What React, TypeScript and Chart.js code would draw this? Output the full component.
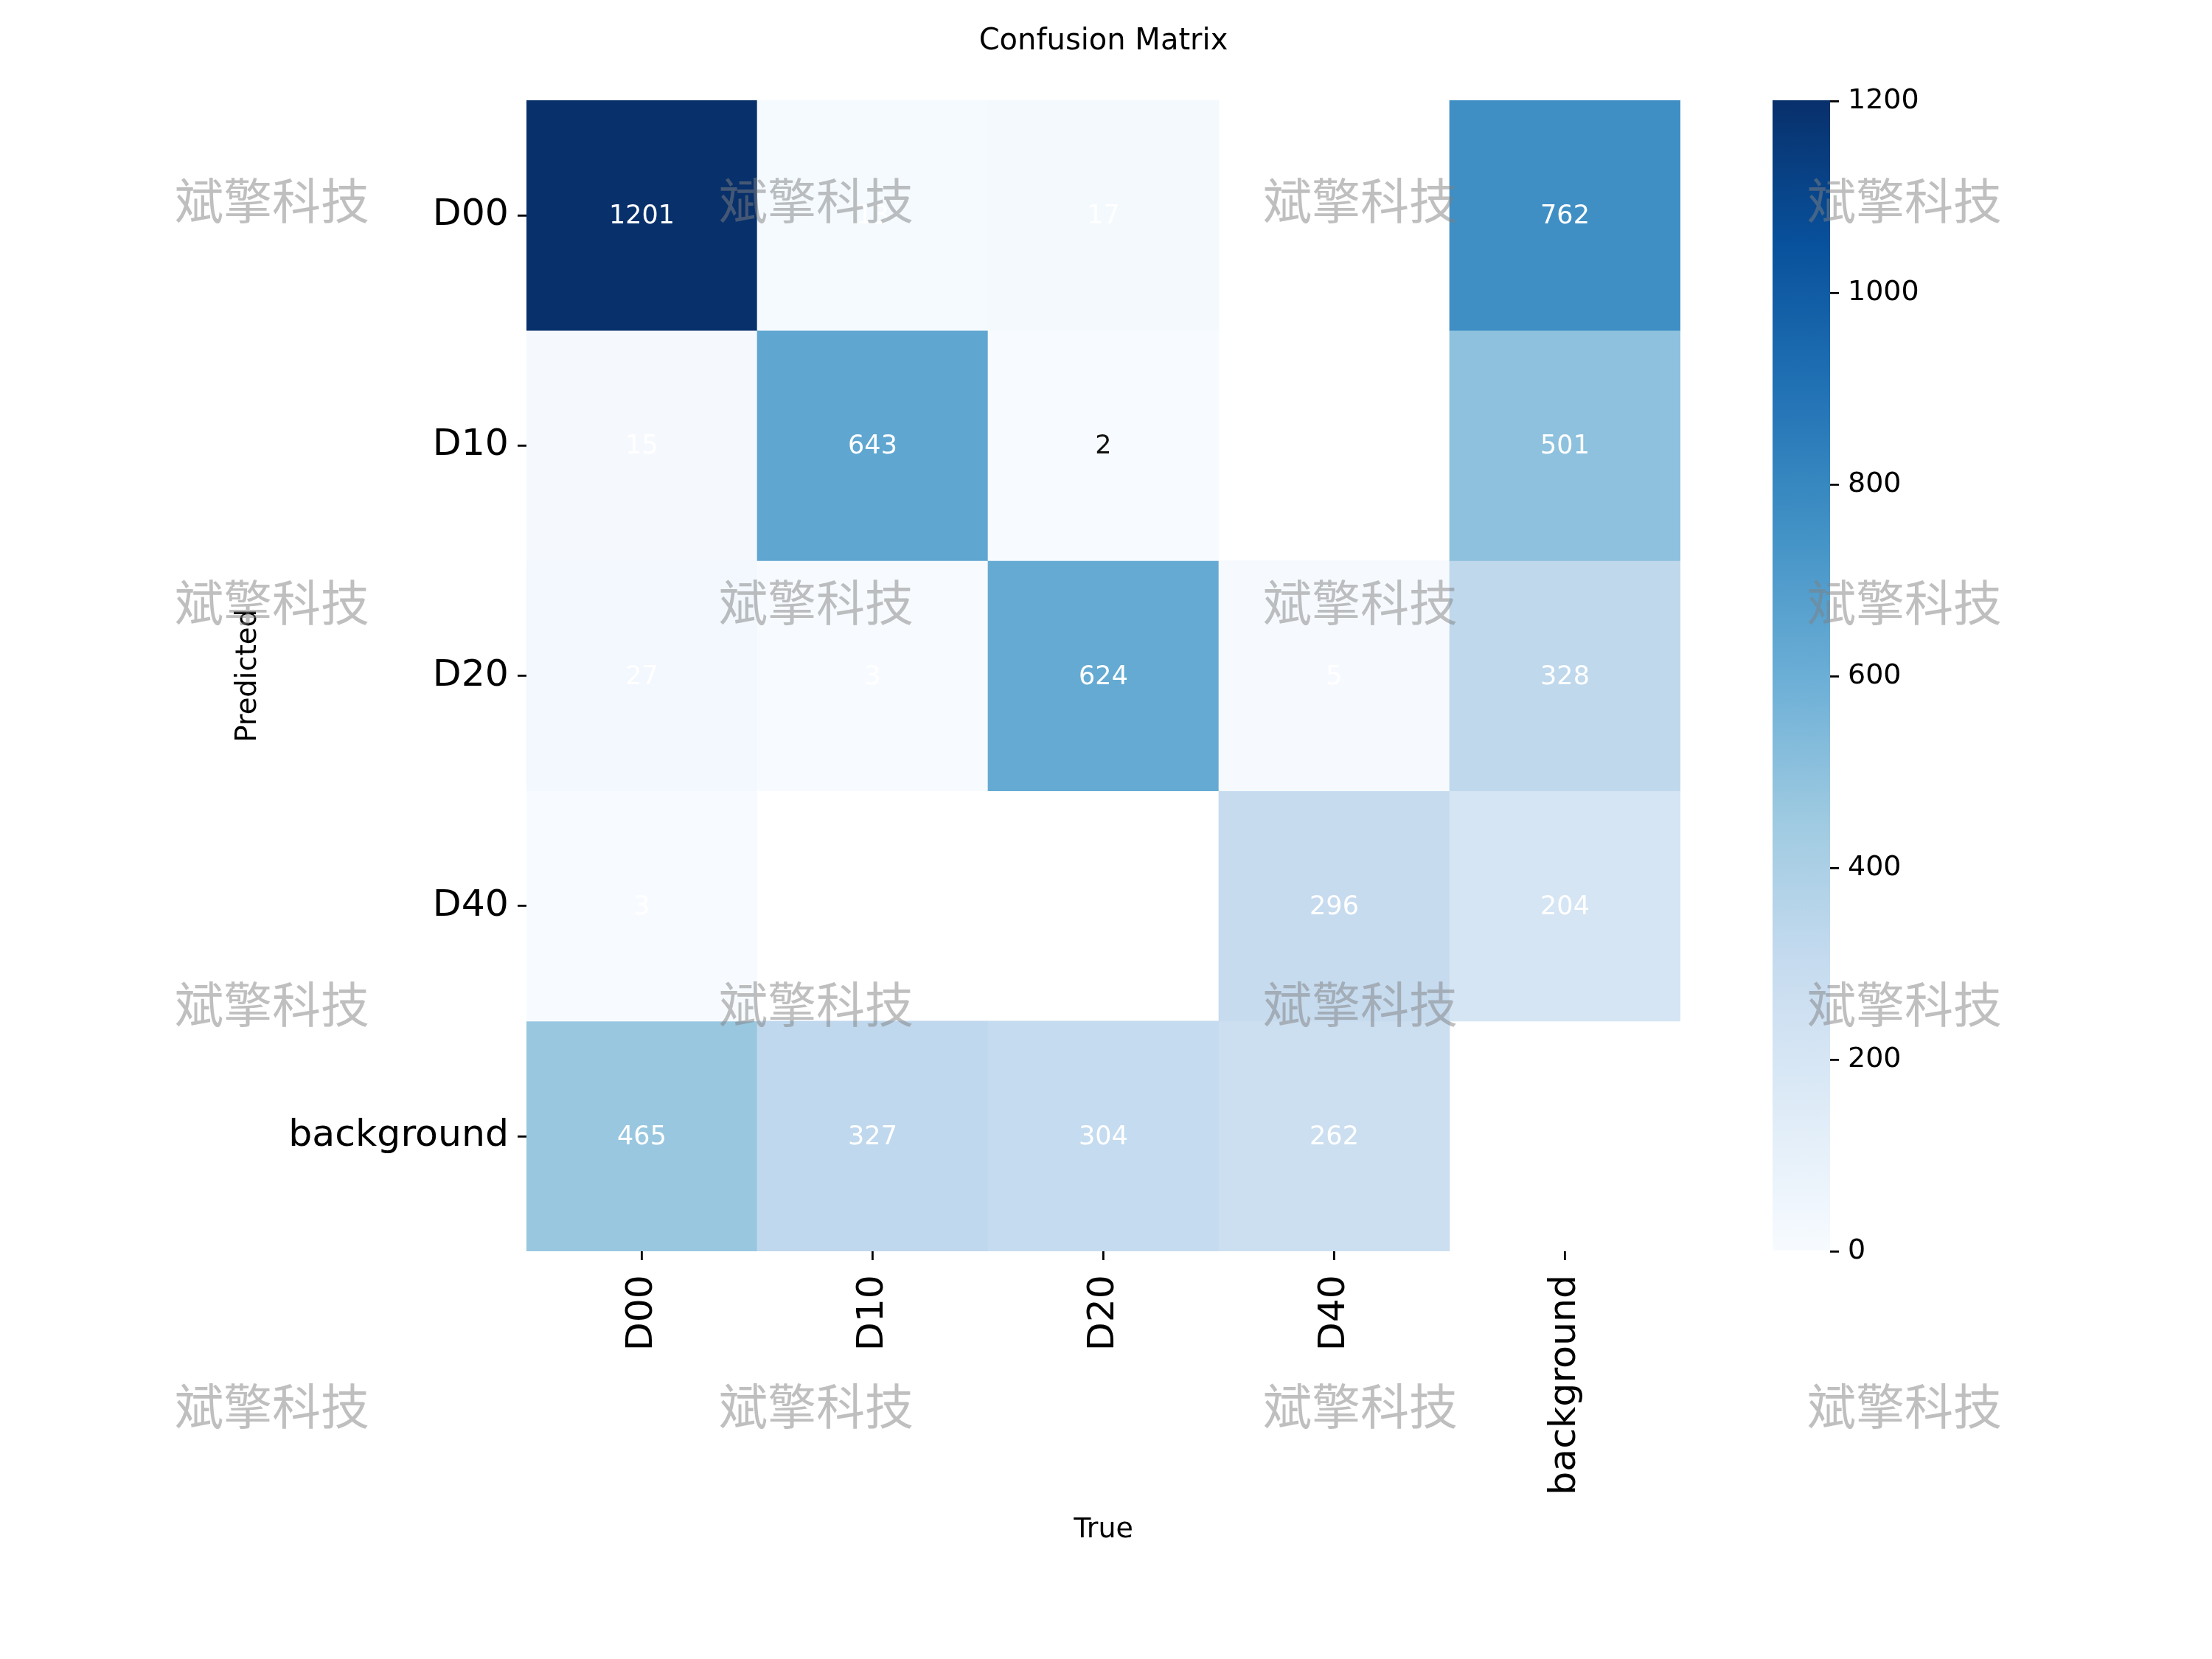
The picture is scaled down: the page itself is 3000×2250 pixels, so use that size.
import React, { useEffect, useRef } from "react";
import { Chart, registerables } from "chart.js";

Chart.register(...registerables);

// ---- data ----
const predictedLabels = ["D00", "D10", "D20", "D40", "background"];
const trueLabels = ["D00", "D10", "D20", "D40", "background"];
const rowD00 = [1201, 13, 17, 0, 762];
const rowD10 = [15, 643, 2, 0, 501];
const rowD20 = [27, 3, 624, 5, 328];
const rowD40 = [3, 0, 0, 296, 204];
const rowBackground = [465, 327, 304, 262, 0];
const colorbarTicks = [0, 200, 400, 600, 800, 1000, 1200];
const titleText = "Confusion Matrix";
const xTitle = "True";
const yTitle = "Predicted";
const watermarkText = "斌擎科技";

const matrix = [rowD00, rowD10, rowD20, rowD40, rowBackground];
const vmax = Math.max(...matrix.flat());

// ---- styles ----
const BLUES = ["#f7fbff", "#deebf7", "#c6dbef", "#9ecae1", "#6baed6", "#4292c6", "#2171b5", "#08519c", "#08306b"];
const darkTextCells = [[1, 2]];
const FONT = '"DejaVu Sans", "Noto Sans", sans-serif';

function hexToRgb(h: string) {
  const n = parseInt(h.slice(1), 16);
  return [(n >> 16) & 255, (n >> 8) & 255, n & 255];
}
function blues(t: number) {
  const tt = Math.max(0, Math.min(1, t));
  const pos = tt * (BLUES.length - 1);
  const i = Math.min(Math.floor(pos), BLUES.length - 2);
  const f = pos - i;
  const a = hexToRgb(BLUES[i]);
  const b = hexToRgb(BLUES[i + 1]);
  const c = a.map((v, k) => Math.round(v + (b[k] - v) * f));
  return `rgb(${c[0]},${c[1]},${c[2]})`;
}

const annotatePlugin = {
  id: "annotate",
  afterDatasetsDraw(chart: any) {
    const ctx = chart.ctx;
    ctx.save();
    ctx.font = `35px ${FONT}`;
    ctx.textAlign = "center";
    ctx.textBaseline = "middle";
    matrix.forEach((row, r) => {
      const meta = chart.getDatasetMeta(r);
      row.forEach((v, c) => {
        if (v === 0) return;
        const el = meta.data[c];
        if (!el) return;
        const p = el.getCenterPoint();
        const dark = darkTextCells.some(([rr, cc]) => rr === r && cc === c);
        ctx.fillStyle = dark ? "#111111" : "#ffffff";
        ctx.fillText(String(v), p.x, p.y + 2);
      });
    });
    ctx.restore();
  },
};

const watermarkPlugin = {
  id: "watermark",
  afterDraw(chart: any) {
    const ctx = chart.ctx;
    const xs = [369, 1107, 1845, 2583];
    const ys = [272, 817, 1362, 1907];
    ctx.save();
    ctx.font = `66px "Noto Sans CJK SC", sans-serif`;
    ctx.textAlign = "center";
    ctx.textBaseline = "middle";
    ctx.fillStyle = "rgba(128,128,128,0.5)";
    ys.forEach((y) => xs.forEach((x) => ctx.fillText(watermarkText, x, y)));
    ctx.restore();
  },
};

export default function App() {
  const mainRef = useRef<HTMLCanvasElement>(null);
  const cbRef = useRef<HTMLCanvasElement>(null);

  useEffect(() => {
    Chart.defaults.font.family = FONT;
    Chart.defaults.color = "#000";

    const main = new Chart(mainRef.current as HTMLCanvasElement, {
      type: "bar",
      data: {
        labels: trueLabels,
        datasets: matrix.map((row, r) => ({
          label: predictedLabels[r],
          data: row.map(() => [r - 0.5, r + 0.5]),
          backgroundColor: row.map((v) => (v === 0 ? "rgba(0,0,0,0)" : blues(v / vmax))),
          borderWidth: 0,
          barPercentage: 1,
          categoryPercentage: 1,
          grouped: false,
        })) as any,
      },
      options: {
        responsive: false,
        animation: false,
        devicePixelRatio: 1,
        layout: { padding: { left: 300, right: 721, top: 0, bottom: 150 } },
        plugins: {
          legend: { display: false },
          tooltip: { enabled: false },
          title: {
            display: true,
            text: titleText,
            fullSize: false,
            color: "#000",
            font: { size: 40, weight: "normal", lineHeight: 1, family: FONT },
            padding: { top: 37, bottom: 59 },
          },
        },
        scales: {
          x: {
            type: "category",
            offset: true,
            grid: { offset: false, drawOnChartArea: false, drawTicks: true, tickLength: 12, lineWidth: 2.8, color: "#000" },
            border: { display: false },
            ticks: { minRotation: 90, maxRotation: 90, autoSkip: false, padding: 20, color: "#000", font: { size: 50.5, family: FONT } },
            title: { display: true, text: xTitle, color: "#000", font: { size: 38, lineHeight: 1, family: FONT }, padding: { top: 0, bottom: 6 } },
            afterFit: (s: any) => { s.height = 403; },
          },
          y: {
            type: "linear",
            reverse: true,
            min: -0.5,
            max: 4.5,
            afterBuildTicks: (s: any) => { s.ticks = predictedLabels.map((_, i) => ({ value: i })); },
            grid: { drawOnChartArea: false, drawTicks: true, tickLength: 12, lineWidth: 2.8, color: "#000" },
            border: { display: false },
            ticks: { autoSkip: false, padding: 12, color: "#000", font: { size: 50.5, family: FONT }, callback: (v: any) => predictedLabels[v] },
            title: { display: true, text: yTitle, color: "#000", font: { size: 38.5, lineHeight: 1, family: FONT }, padding: { top: 18, bottom: 0 } },
            afterFit: (s: any) => { s.width = 414; },
          },
        },
      } as any,
      plugins: [annotatePlugin, watermarkPlugin],
    });

    const cb = new Chart(cbRef.current as HTMLCanvasElement, {
      type: "bar",
      data: {
        labels: [""],
        datasets: [
          {
            data: [[0, vmax]] as any,
            borderWidth: 0,
            barPercentage: 1,
            categoryPercentage: 1,
            backgroundColor: (c: any) => {
              const chart = c.chart;
              const ys = chart.scales.y;
              if (!ys || !chart.chartArea) return BLUES[4];
              const g = chart.ctx.createLinearGradient(0, ys.getPixelForValue(0), 0, ys.getPixelForValue(vmax));
              BLUES.forEach((col, i) => g.addColorStop(i / (BLUES.length - 1), col));
              return g;
            },
          },
        ],
      },
      options: {
        responsive: false,
        animation: false,
        devicePixelRatio: 1,
        layout: { padding: { top: 136, bottom: 553, left: 0, right: 0 } },
        plugins: { legend: { display: false }, tooltip: { enabled: false }, title: { display: false } },
        scales: {
          x: { display: false },
          y: {
            position: "right",
            min: 0,
            max: vmax,
            afterBuildTicks: (s: any) => { s.ticks = colorbarTicks.map((v) => ({ value: v })); },
            grid: { drawOnChartArea: false, drawTicks: true, tickLength: 12, lineWidth: 2.8, color: "#000" },
            border: { display: false },
            ticks: { autoSkip: false, padding: 12, color: "#000", font: { size: 38, family: FONT }, callback: (v: any) => String(v) },
            afterFit: (s: any) => { s.width = 172; },
          },
        },
      } as any,
    });

    return () => {
      main.destroy();
      cb.destroy();
    };
  }, []);

  return (
    <div style={{ position: "absolute", left: 0, top: 0, width: 3000, height: 2250, background: "#fff" }}>
      <canvas ref={cbRef} width={250} height={2250} style={{ position: "absolute", left: 2404, top: 0, width: 250, height: 2250 }} />
      <canvas ref={mainRef} width={3000} height={2250} style={{ position: "absolute", left: 0, top: 0, width: 3000, height: 2250 }} />
    </div>
  );
}
